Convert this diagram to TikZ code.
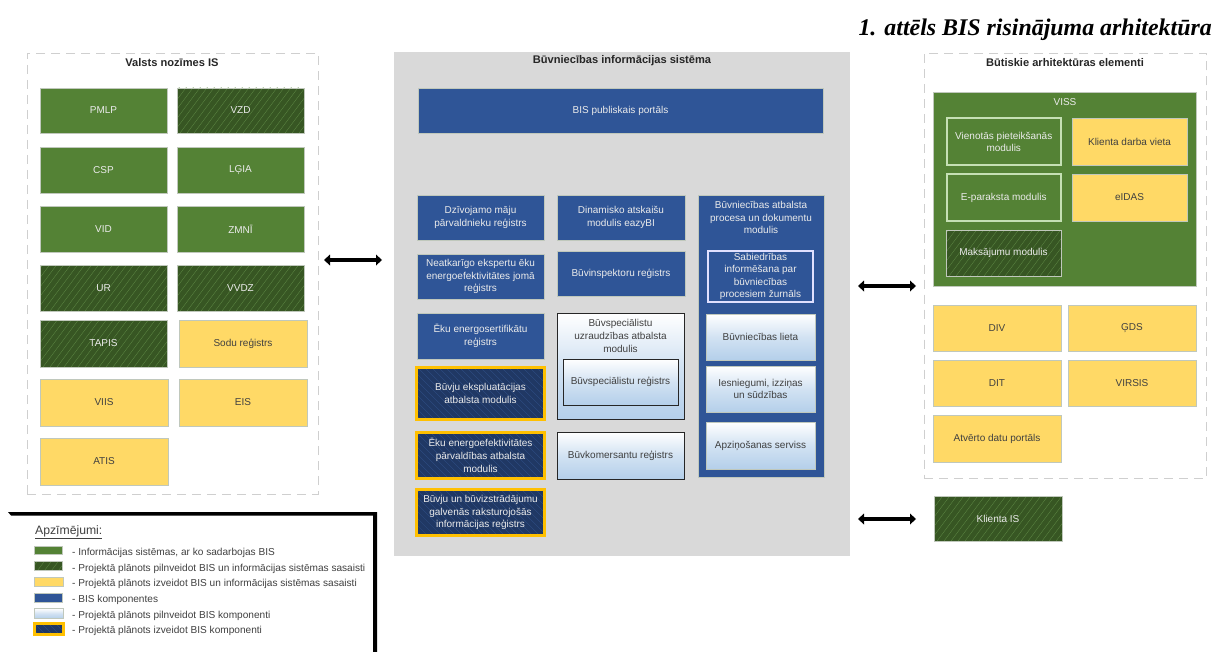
\documentclass[tikz,border=0pt]{standalone}
\usepackage{fontspec}
\setmainfont{Liberation Sans}
\newfontfamily\serifttl{Liberation Serif}
\definecolor{grn}{HTML}{548235}
\definecolor{dgrn}{HTML}{375623}
\definecolor{hgrn}{HTML}{5F8A46}
\definecolor{yel}{HTML}{FFD966}
\definecolor{blu}{HTML}{2F5597}
\definecolor{nav}{HTML}{203864}
\definecolor{hnav}{HTML}{2F4F85}
\definecolor{org}{HTML}{FFC000}
\definecolor{pan}{HTML}{D9D9D9}
\definecolor{txtd}{HTML}{404040}
\definecolor{txtl}{HTML}{EBEBEB}
\definecolor{lbl}{HTML}{B4CFEA}
\definecolor{edge}{HTML}{C0C8BC}
\definecolor{lgrn}{HTML}{C5E0B4}
\definecolor{dash}{HTML}{CFCFCF}
\tikzset{
  x=1pt,y=-1pt,
  basebox/.style={draw=edge,line width=0.9pt,inner sep=0pt,outer sep=0pt,anchor=center},
  gbox/.style={basebox,fill=grn},
  hatchbox/.style={basebox,fill=dgrn,
    path picture={\foreach \i in {-60,-53,...,130}{
      \draw[hgrn,line width=0.3pt] ([xshift=\i pt]path picture bounding box.south west) -- ++(45pt,60pt);}}},
  ybox/.style={basebox,fill=yel},
  bbox/.style={basebox,fill=blu},
  lbox/.style={basebox,top color=white,bottom color=lbl,middle color=lbl!60!white},
  lkbox/.style={lbox,draw=black!85,line width=1pt},
  nbox/.style={basebox,draw=org,line width=3pt,fill=nav,
    path picture={\foreach \i in {-10,-3,...,190}{
      \draw[hnav,line width=0.35pt] ([xshift=\i pt]path picture bounding box.south west) -- ++(-60pt,60pt);}}},
  vbox/.style={basebox,draw=lgrn,line width=2pt,fill=grn},
  sabbox/.style={basebox,fill=blu,draw=white!88!blue,line width=1.4pt},
  dashpanel/.style={draw=dash,line width=0.9pt,dash pattern=on 9pt off 6pt,fill=white,inner sep=0pt},
  ptitle/.style={font=\bfseries\fontsize{11.1}{12}\selectfont,text=black!85,inner sep=0pt},
  clabel/.style={align=center,inner sep=0pt,font=\fontsize{10}{12.6}\selectfont},
  dbl/.style={line width=4.6pt,black},
  swatch/.style={basebox,line width=0.8pt},
  legtext/.style={anchor=west,inner sep=0pt,text=txtd,font=\fontsize{10.1}{12}\selectfont},
}
% box node plus its centred text node: {text colour}{name}{style}{x0}{y0}{x1}{y1}{text}
\newcommand{\bxg}[8]{\node[#3,minimum width={(#6-#4)*1pt},minimum height={(#7-#5)*1pt}] (#2) at ({(#4+#6)/2},{(#5+#7)/2}) {};
  \node[clabel,text=#1] (#2t) at (#2.center) {#8};}
\newcommand{\bx}{\bxg{txtl}}
\newcommand{\bxd}{\bxg{txtd}}
\newcommand{\sw}[6]{\node[swatch,#2,minimum width={(#5-#3)*1pt},minimum height={(#6-#4)*1pt}] (#1) at ({(#3+#5)/2},{(#4+#6)/2}) {};}
\begin{document}
\begin{tikzpicture}
\useasboundingbox (0,0) rectangle (1214,652);
\fill[white] (0,0) rectangle (1214,652);
% title
\node[anchor=east,inner sep=0pt,font=\serifttl\bfseries\itshape\fontsize{23.9}{26}\selectfont] (ttl) at (1212,30) {1. attēls BIS risinājuma arhitektūra};
% panels
\node[dashpanel,minimum width=291pt,minimum height=441pt] (leftp) at (172.5,273.5) {};
\node[draw=none,fill=pan,inner sep=0pt,minimum width=456pt,minimum height=504pt] (midp) at (622,304) {};
\node[dashpanel,minimum width=282pt,minimum height=425pt] (rightp) at (1065,266) {};
\node[ptitle] (t1) at (172,62.5) {Valsts nozīmes IS};
\node[ptitle] (t2) at (622,61) {Būvniecības informācijas sistēma};
\node[ptitle] (t3) at (1065,62.5) {Būtiskie arhitektūras elementi};
% left
\bx{pmlp}{gbox}{40}{88}{167}{133}{PMLP}
\bx{vzd}{hatchbox}{177}{88}{304}{133}{VZD}
\bx{csp}{gbox}{40}{147}{167}{193}{CSP}
\bx{lgia}{gbox}{177}{147}{304}{193}{LĢIA}
\bx{vid}{gbox}{40}{206}{167}{252}{VID}
\bx{zmni}{gbox}{177}{206}{304}{252}{ZMNĪ}
\bx{ur}{hatchbox}{40}{265}{167}{311}{UR}
\bx{vvdz}{hatchbox}{177}{265}{304}{311}{VVDZ}
\bx{tapis}{hatchbox}{40}{320}{167}{367}{TAPIS}
\bxd{sodu}{ybox}{179}{320}{307}{367}{Sodu reģistrs}
\bxd{viis}{ybox}{40}{379}{168}{426}{VIIS}
\bxd{eis}{ybox}{179}{379}{307}{426}{EIS}
\bxd{atis}{ybox}{40}{438}{168}{485}{ATIS}
% centre
\bx{portal}{bbox}{418}{88}{823}{133}{BIS publiskais portāls}
\bx{dz}{bbox}{417}{195}{544}{240}{Dzīvojamo māju\\pārvaldnieku reģistrs}
\bx{ne}{bbox}{417}{254}{544}{299}{Neatkarīgo ekspertu ēku\\energoefektivitātes jomā\\reģistrs}
\bx{es}{bbox}{417}{313}{544}{359}{Ēku energosertifikātu\\reģistrs}
\bx{be}{nbox}{416.5}{367.5}{544.5}{419.5}{Būvju ekspluatācijas\\atbalsta modulis}
\bx{ee}{nbox}{416.5}{432.5}{544.5}{478.5}{Ēku energoefektivitātes\\pārvaldības atbalsta\\modulis}
\bx{bu}{nbox}{416.5}{489.5}{544.5}{535.5}{Būvju un būvizstrādājumu\\galvenās raksturojošās\\informācijas reģistrs}
\bx{din}{bbox}{557}{195}{685}{240}{Dinamisko atskaišu\\modulis eazyBI}
\bx{bi}{bbox}{557}{251}{685}{296}{Būvinspektoru reģistrs}
\bxd{bs}{lkbox}{557}{313}{684}{419}{}
\node[clabel,text=txtd] (bst) at (620.5,336) {Būvspeciālistu\\uzraudzības atbalsta\\modulis};
\bxd{br}{lkbox}{563}{359}{678}{405}{Būvspeciālistu reģistrs}
\bxd{bk}{lkbox}{557}{432}{684}{479}{Būvkomersantu reģistrs}
\bx{pr}{bbox}{698}{195}{824}{477}{}
\node[clabel,text=txtl] (prt) at (761,217.5) {Būvniecības atbalsta\\procesa un dokumentu\\modulis};
\bx{sab}{sabbox}{708}{251}{813}{302}{Sabiedrības\\informēšana par\\būvniecības\\procesiem žurnāls}
\bxd{lieta}{lbox}{706}{314}{815}{360}{Būvniecības lieta}
\bxd{ies}{lbox}{706}{366}{815}{412}{Iesniegumi, izziņas\\un sūdzības}
\bxd{apz}{lbox}{706}{422}{815}{469}{Apziņošanas serviss}
% right
\bx{viss}{gbox}{933}{92}{1196}{286}{}
\node[clabel,text=txtl] (visst) at (1065,102) {VISS};
\bx{vp}{vbox}{946.5}{118.5}{1061}{165}{Vienotās pieteikšanās\\modulis}
\bx{ep}{vbox}{946.5}{174.5}{1061}{221}{E-paraksta modulis}
\bx{ma}{hatchbox}{946}{230}{1061}{276}{Maksājumu modulis}
\bxd{kd}{ybox}{1072}{118}{1187}{165}{Klienta darba vieta}
\bxd{ei}{ybox}{1072}{174}{1187}{221}{eIDAS}
\bxd{div}{ybox}{933}{305}{1061}{351}{DIV}
\bxd{gds}{ybox}{1068}{305}{1196}{351}{ĢDS}
\bxd{dit}{ybox}{933}{360}{1061}{406}{DIT}
\bxd{vir}{ybox}{1068}{360}{1196}{406}{VIRSIS}
\bxd{adp}{ybox}{933}{415}{1061}{462}{Atvērto datu portāls}
\bx{kis}{hatchbox}{934}{496}{1062}{541}{Klienta IS}
% connectors
\coordinate (a1) at (324,260); \coordinate (a2) at (382,260);
\coordinate (b1) at (858,286); \coordinate (b2) at (916,286);
\coordinate (c1) at (858,519); \coordinate (c2) at (916,519);
\foreach \p/\q in {a1/a2,b1/b2,c1/c2}{
  \draw[dbl] ([xshift=4pt]\p) -- ([xshift=-4pt]\q);
  \fill[black] (\p) -- ++(6,-5.5) -- ++(0,11) -- cycle;
  \fill[black] (\q) -- ++(-6,-5.5) -- ++(0,11) -- cycle;
}
% legend
\coordinate (l1) at (8,512); \coordinate (l2) at (377,512); \coordinate (l3) at (377,652);
\coordinate (l4) at (373,515.5); \coordinate (l5) at (373,652); \coordinate (l6) at (11,515.5);
\fill[black] (l1) -- (l2) -- (l3) -- (l5) -- (l4) -- (l6) -- cycle;
\node[anchor=west,inner sep=0pt,text=txtd,font=\fontsize{12.2}{14}\selectfont] (lt) at (35,532.5) {\underline{Apzīmējumi:}};
\sw{s1}{gbox}{34.5}{546.5}{62.5}{554.5}
\sw{s2}{hatchbox}{34.5}{561.5}{62.5}{570.5}
\sw{s3}{ybox}{34.5}{577.5}{63.5}{586.5}
\sw{s4}{bbox}{34.5}{593.5}{62.5}{602.5}
\sw{s5}{lbox}{34.5}{608.5}{63.5}{618.5}
\sw{s6}{nbox}{34.5}{623.5}{63.5}{634.5}
\node[legtext] (d1) at (72,553) {- Informācijas sistēmas, ar ko sadarbojas BIS};
\node[legtext] (d2) at (72,569) {- Projektā plānots pilnveidot BIS un informācijas sistēmas sasaisti};
\node[legtext] (d3) at (72,584) {- Projektā plānots izveidot BIS un informācijas sistēmas sasaisti};
\node[legtext] (d4) at (72,600) {- BIS komponentes};
\node[legtext] (d5) at (72,616) {- Projektā plānots pilnveidot BIS komponenti};
\node[legtext] (d6) at (72,631) {- Projektā plānots izveidot BIS komponenti};
\end{tikzpicture}
\end{document}
